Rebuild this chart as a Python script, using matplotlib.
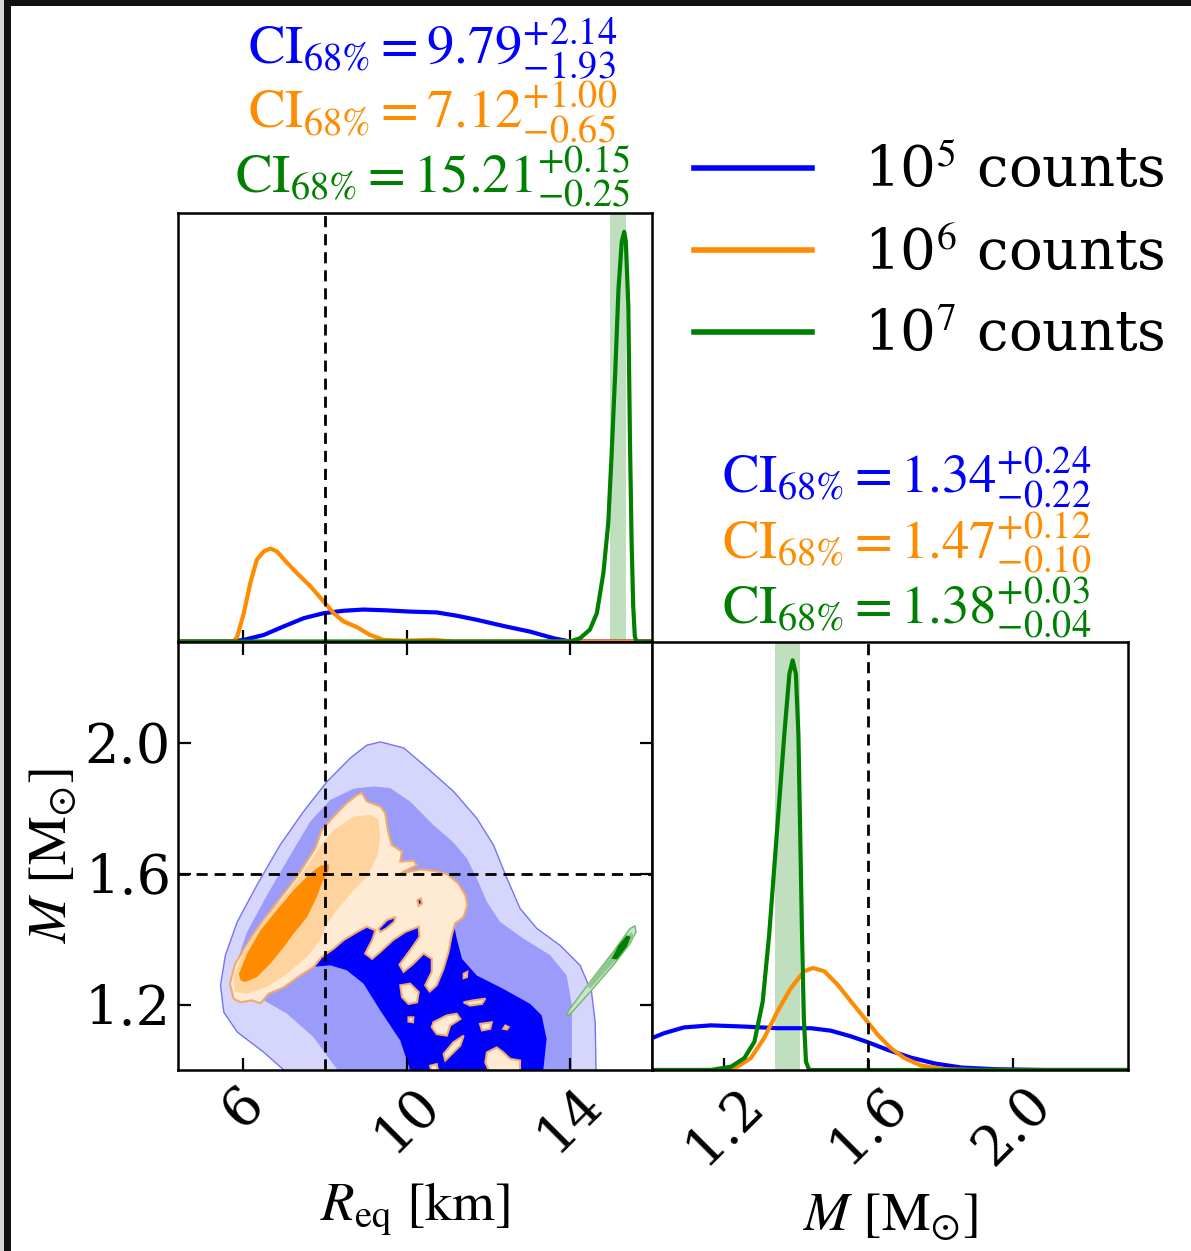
import numpy as np
import matplotlib
matplotlib.use("Agg")
import matplotlib.pyplot as plt
from matplotlib.patches import PathPatch, Rectangle
from matplotlib.path import Path
from matplotlib.lines import Line2D

plt.rcParams['font.family'] = 'DejaVu Serif'
plt.rcParams['mathtext.fontset'] = 'stix'

labels = ['10$^5$ counts', '10$^6$ counts', '10$^7$ counts']
colors = ['blue', 'darkorange', 'green']

r_true = 8.0
m_true = 1.6

# 68% credible intervals (median, +err, -err)
ci_r = [(9.79, 2.14, 1.93), (7.12, 1.00, 0.65), (15.21, 0.15, 0.25)]
ci_m = [(1.34, 0.24, 0.22), (1.47, 0.12, 0.10), (1.38, 0.03, 0.04)]

# 1D marginals of R_eq, scaled to the tallest peak
r_blue = [4.4, 5.68, 6.01, 6.50, 6.99, 7.48, 7.96, 8.45, 8.94, 9.51, 10.08, 10.73, 11.22,
          11.71, 12.36, 13.02, 13.59, 13.99, 14.40, 16.0]
p_r_blue = [0, 0, 0.004, 0.016, 0.037, 0.057, 0.069, 0.075, 0.078, 0.076, 0.073, 0.071,
            0.063, 0.053, 0.038, 0.024, 0.008, 0, 0, 0]
r_orange = [4.4, 5.76, 5.85, 6.01, 6.17, 6.33, 6.50, 6.66, 6.82, 7.07, 7.31, 7.64, 7.96,
            8.21, 8.45, 8.78, 9.10, 9.43, 9.92, 10.65, 11.14, 16.0]
p_r_orange = [0, 0, 0.012, 0.069, 0.143, 0.200, 0.220, 0.227, 0.220, 0.192, 0.167, 0.135,
              0.098, 0.069, 0.049, 0.035, 0.016, 0.004, 0.002, 0.004, 0, 0]
r_green = [4.4, 13.99, 14.24, 14.48, 14.65, 14.81, 14.93, 15.01, 15.10, 15.18, 15.26, 15.32,
           15.36, 15.42, 15.46, 15.50, 15.54, 15.58, 15.62, 16.0]
p_r_green = [0, 0, 0.008, 0.029, 0.069, 0.167, 0.290, 0.453, 0.657, 0.861, 0.976, 1.0,
             0.976, 0.820, 0.494, 0.249, 0.086, 0.012, 0, 0]

# 1D marginals of M
m_blue = [1.0, 1.034, 1.089, 1.163, 1.256, 1.348, 1.441, 1.496, 1.552, 1.598, 1.654, 1.719,
          1.784, 1.858, 1.950, 2.089, 2.32]
p_m_blue = [0.078, 0.090, 0.104, 0.109, 0.106, 0.102, 0.102, 0.096, 0.082, 0.068, 0.049,
            0.030, 0.016, 0.006, 0.002, 0, 0]
m_orange = [1.0, 1.20, 1.237, 1.274, 1.311, 1.348, 1.385, 1.422, 1.446, 1.478, 1.515, 1.552,
            1.589, 1.626, 1.663, 1.700, 1.746, 1.811, 1.904, 2.32]
p_m_orange = [0, 0, 0.008, 0.029, 0.078, 0.143, 0.200, 0.241, 0.249, 0.241, 0.208, 0.167,
              0.127, 0.086, 0.053, 0.029, 0.011, 0.002, 0, 0]
m_green = [1.0, 1.163, 1.219, 1.256, 1.284, 1.307, 1.325, 1.339, 1.353, 1.367, 1.381, 1.390,
           1.399, 1.406, 1.411, 1.416, 1.421, 1.427, 1.436, 2.32]
p_m_green = [0, 0, 0.008, 0.029, 0.069, 0.167, 0.331, 0.494, 0.657, 0.820, 0.967, 1.0,
             0.967, 0.820, 0.576, 0.331, 0.127, 0.020, 0, 0]

# 2D credible regions (R_eq, M): outer, middle, inner
blue_lo_r = [9.35, 9.92, 10.41, 11.14, 11.71, 12.12, 12.45, 12.77, 13.18, 13.75, 14.24, 14.52,
             14.61, 14.63, 14.63, 7.30, 6.99, 6.50, 5.85, 5.52, 5.44, 5.56, 5.85, 6.33, 6.90,
             7.47, 8.05, 8.62, 9.02]
blue_lo_m = [2.003, 1.985, 1.933, 1.852, 1.770, 1.688, 1.586, 1.494, 1.433, 1.381, 1.320,
             1.238, 1.146, 1.0, 0.95, 0.95, 1.0, 1.054, 1.116, 1.177, 1.259, 1.351, 1.453,
             1.565, 1.688, 1.790, 1.882, 1.954, 1.993]
blue_mid_r = [9.19, 9.59, 10.08, 10.65, 11.14, 11.47, 11.71, 11.96, 12.28, 12.85, 13.51, 13.91,
              14.04, 14.04, 8.40, 8.29, 8.13, 7.72, 7.07, 6.50, 6.25, 5.84, 5.76, 6.09, 6.58,
              7.15, 7.64, 8.13, 8.70]
blue_mid_m = [1.867, 1.862, 1.821, 1.749, 1.696, 1.647, 1.586, 1.514, 1.453, 1.402, 1.351,
              1.289, 1.197, 0.95, 0.95, 1.003, 1.029, 1.100, 1.172, 1.213, 1.207, 1.238, 1.300,
              1.422, 1.535, 1.657, 1.760, 1.826, 1.860]
blue_hi_r = [7.64, 8.13, 8.53, 8.94, 9.35, 9.84, 10.08, 10.15, 13.38, 13.34, 13.42, 13.30,
             13.02, 12.36, 11.71, 11.35, 11.22, 11.14, 10.73, 9.92, 8.78, 8.05, 7.72]
blue_hi_m = [1.315, 1.320, 1.305, 1.264, 1.182, 1.090, 1.0, 0.95, 0.95, 1.0, 1.095, 1.167,
             1.202, 1.248, 1.289, 1.340, 1.402, 1.453, 1.55, 1.53, 1.443, 1.392, 1.351]

orange_lo_r = [5.76, 5.67, 5.80, 6.25, 6.74, 7.31, 7.76, 7.92, 8.21, 8.53, 8.78, 8.90, 9.02,
               9.35, 9.47, 9.55, 9.63, 9.88, 9.84, 10.16, 10.25, 9.84, 10.33, 10.65, 10.98,
               11.26, 11.43, 11.48, 11.39, 11.18, 11.10, 11.02, 10.90, 10.73, 10.56, 10.45,
               10.61, 10.61, 10.41, 10.16, 9.92, 9.82, 10.08, 10.31, 10.29, 9.96, 9.66, 9.35,
               9.15, 8.98, 9.15, 9.23, 9.02, 8.78, 8.45, 8.21, 7.92, 7.72, 7.39, 6.99, 6.62,
               6.42, 6.21, 5.93]
orange_lo_m = [1.218, 1.264, 1.325, 1.417, 1.499, 1.591, 1.678, 1.734, 1.775, 1.816, 1.841,
               1.847, 1.821, 1.806, 1.785, 1.724, 1.688, 1.668, 1.637, 1.640, 1.627, 1.601,
               1.613, 1.609, 1.599, 1.570, 1.535, 1.504, 1.468, 1.448, 1.412, 1.361, 1.310,
               1.259, 1.240, 1.259, 1.300, 1.340, 1.356, 1.325, 1.300, 1.322, 1.366, 1.407,
               1.438, 1.422, 1.397, 1.361, 1.340, 1.356, 1.397, 1.427, 1.438, 1.422, 1.397,
               1.371, 1.346, 1.315, 1.289, 1.253, 1.233, 1.204, 1.213, 1.207]
orange_holes = [
    ([9.31, 9.51, 9.72, 9.69, 9.51, 9.35], [1.432, 1.458, 1.468, 1.453, 1.434, 1.422]),
    ([10.26, 10.34, 10.37, 10.29], [1.519, 1.525, 1.509, 1.502]),
]
orange_islands = [
    ([10.65, 10.98, 11.22, 11.31, 11.06, 10.98, 10.73, 10.61],
     [1.146, 1.167, 1.172, 1.156, 1.136, 1.105, 1.110, 1.131]),
    ([11.39, 11.31, 11.06, 10.94, 10.90, 11.14], [1.105, 1.075, 1.044, 1.029, 1.049, 1.085]),
    ([11.39, 11.63, 11.92, 11.84, 11.55], [1.207, 1.213, 1.218, 1.202, 1.197]),
    ([11.79, 12.08, 12.04, 11.84], [1.141, 1.146, 1.126, 1.121]),
    ([11.96, 12.20, 12.36, 12.53, 12.77, 12.77, 12.04, 11.92],
     [1.054, 1.069, 1.054, 1.034, 1.029, 0.99, 0.99, 1.023]),
    ([12.41, 12.49, 12.45, 12.36], [1.136, 1.131, 1.124, 1.126]),
    ([10.04, 10.16, 10.15, 10.04], [1.161, 1.161, 1.146, 1.148]),
    ([9.84, 10.08, 10.29, 10.25, 10.04, 9.88], [1.259, 1.264, 1.238, 1.207, 1.202, 1.223]),
    ([11.39, 11.48, 11.47, 11.39], [1.294, 1.300, 1.284, 1.281]),
    ([10.57, 10.73, 10.78, 10.61], [1.013, 1.018, 0.99, 0.99]),
]
orange_mid_r = [5.80, 5.76, 6.01, 6.50, 7.07, 7.56, 7.88, 8.21, 8.70, 9.11, 9.31, 9.35, 9.27,
                9.02, 8.70, 8.29, 8.05, 7.88, 7.56, 7.07, 6.58, 6.09]
orange_mid_m = [1.238, 1.284, 1.366, 1.458, 1.540, 1.622, 1.683, 1.734, 1.775, 1.780, 1.765,
                1.714, 1.652, 1.591, 1.550, 1.489, 1.448, 1.397, 1.346, 1.294, 1.254, 1.233]
orange_hi_r = [5.93, 5.89, 6.09, 6.42, 6.82, 7.23, 7.64, 7.88, 8.09, 8.09, 7.92, 7.80, 7.56,
               7.23, 6.99, 6.66, 6.33, 6.05]
orange_hi_m = [1.274, 1.294, 1.356, 1.427, 1.489, 1.550, 1.601, 1.624, 1.629, 1.611, 1.571,
               1.530, 1.468, 1.417, 1.376, 1.325, 1.284, 1.269]

green_lo_r = [13.91, 13.99, 14.48, 15.05, 15.46, 15.58, 15.61, 15.46, 15.05, 14.48, 14.08, 13.95]
green_lo_m = [1.169, 1.187, 1.269, 1.361, 1.432, 1.441, 1.422, 1.386, 1.320, 1.238, 1.182, 1.167]
green_mid_r = [14.40, 14.81, 15.22, 15.50, 15.56, 15.34, 14.89, 14.48]
green_mid_m = [1.259, 1.320, 1.386, 1.422, 1.407, 1.366, 1.305, 1.248]
green_hi_r = [15.01, 15.18, 15.38, 15.48, 15.38, 15.14]
green_hi_m = [1.340, 1.381, 1.412, 1.407, 1.376, 1.338]


def region(outer, holes=()):
    verts, codes = [], []
    for k, (xs, ys) in enumerate([outer, *holes]):
        ring = np.column_stack([xs, ys])
        area = np.sum(ring[:, 0] * np.roll(ring[:, 1], -1) - np.roll(ring[:, 0], -1) * ring[:, 1])
        if (k == 0) != (area > 0):
            ring = ring[::-1]
        verts += list(ring) + [ring[0]]
        codes += [Path.MOVETO] + [Path.LINETO] * (len(ring) - 1) + [Path.CLOSEPOLY]
    return Path(verts, codes)


def fill(ax, xs, ys, fc, ec='none', lw=0, holes=()):
    ax.add_patch(PathPatch(region((xs, ys), holes), fc=fc, ec=ec, lw=lw))


fig = plt.figure(figsize=(11.91, 12.51), dpi=100)
x0, w1, w2 = 178 / 1191, 474 / 1191, 476 / 1191
y0, h = 181 / 1251, 428.5 / 1251
ax_r = fig.add_axes([x0, y0 + h, w1, h])
ax_2d = fig.add_axes([x0, y0, w1, h])
ax_m = fig.add_axes([x0 + w1, y0, w2, h])

# R_eq marginal
ax_r.plot(r_blue, p_r_blue, color='blue', lw=3)
ax_r.plot(r_orange, p_r_orange, color='darkorange', lw=3)
ax_r.plot(r_green, p_r_green, color='green', lw=3)
med, up, lo = ci_r[2]
ax_r.axvspan(med - lo, med + up, color='green', alpha=0.25, lw=0)
ax_r.axvline(r_true, color='k', ls=(0, (4, 2.5)), lw=2)
ax_r.set_xlim(4.4, 16.0)
ax_r.set_ylim(0, 1.046)

# M marginal
ax_m.plot(m_blue, p_m_blue, color='blue', lw=3)
ax_m.plot(m_orange, p_m_orange, color='darkorange', lw=3)
ax_m.plot(m_green, p_m_green, color='green', lw=3)
med, up, lo = ci_m[2]
ax_m.axvspan(med - lo, med + up, color='green', alpha=0.25, lw=0)
ax_m.axvline(m_true, color='k', ls=(0, (4, 2.5)), lw=2)
ax_m.set_xlim(1.0, 2.32)
ax_m.set_ylim(0, 1.046)

# joint posterior
fill(ax_2d, blue_lo_r, blue_lo_m, '#d6d6fc', ec='#7474f4', lw=1)
fill(ax_2d, blue_mid_r, blue_mid_m, '#9b9bfa')
fill(ax_2d, blue_hi_r, blue_hi_m, '#0000ff')
fill(ax_2d, orange_lo_r, orange_lo_m, '#ffebd4', ec='#f2aa6c', lw=1.5, holes=orange_holes)
for xs, ys in orange_islands:
    fill(ax_2d, xs, ys, '#ffebd4', ec='#f2aa6c', lw=1.5)
fill(ax_2d, orange_mid_r, orange_mid_m, '#fed39e')
fill(ax_2d, orange_hi_r, orange_hi_m, '#ff8c00')
fill(ax_2d, green_lo_r, green_lo_m, '#c9e6c9', ec='#6fb56f', lw=1)
fill(ax_2d, green_mid_r, green_mid_m, '#8fc98f')
fill(ax_2d, green_hi_r, green_hi_m, '#008000')
ax_2d.axvline(r_true, color='k', ls=(0, (4, 2.5)), lw=2)
ax_2d.axhline(m_true, color='k', ls=(0, (4, 2.5)), lw=2)
ax_2d.set_xlim(4.4, 16.0)
ax_2d.set_ylim(1.0, 2.31)

for ax in (ax_r, ax_2d, ax_m):
    for s in ax.spines.values():
        s.set_linewidth(1.8)
    ax.tick_params(direction='in', length=9, width=1.6, labelsize=39, pad=5)

ax_r.set_xticks([6, 10, 14])
ax_r.set_yticks([])
ax_r.tick_params(labelbottom=False)

ax_2d.set_xticks([6, 10, 14])
ax_2d.set_yticks([1.2, 1.6, 2.0])
ax_2d.tick_params(top=True, right=True, axis='both')
ax_2d.tick_params(axis='x', labelrotation=45)
ax_2d.set_xlabel(r'$R_{\mathrm{eq}}\ [\mathrm{km}]$', fontsize=39.5, labelpad=13)
ax_2d.set_ylabel(r'$M\ [\mathrm{M}_{\odot}]$', fontsize=39.5, labelpad=5)

ax_m.set_xticks([1.2, 1.6, 2.0])
ax_m.set_yticks([])
ax_m.tick_params(axis='x', labelrotation=45)
ax_m.set_xlabel(r'$M\ [\mathrm{M}_{\odot}]$', fontsize=39.5, labelpad=11)

# credible interval annotations
for k, (med, up, lo) in enumerate(ci_r):
    fig.text(433 / 1191, 1 - (49 + 64 * k) / 1251,
             r'$\mathrm{CI}_{68\%%} = %.2f^{+%.2f}_{-%.2f}$' % (med, up, lo),
             color=colors[k], fontsize=39.4, ha='center', va='center')
for k, (med, up, lo) in enumerate(ci_m):
    fig.text(907 / 1191, 1 - (478 + 65 * k) / 1251,
             r'$\mathrm{CI}_{68\%%} = %.2f^{+%.2f}_{-%.2f}$' % (med, up, lo),
             color=colors[k], fontsize=39.4, ha='center', va='center')

handles = [Line2D([], [], color=c, lw=4) for c in colors]
fig.legend(handles, labels, loc='center', bbox_to_anchor=(0.780, 0.797), frameon=False,
           fontsize=40.5, handlelength=2.1, handletextpad=0.92, labelspacing=0.485)

# dark border along the top and left edges
fig.add_artist(Rectangle((0, 0), 4 / 1191, 1, transform=fig.transFigure, fc='#d8d8d8', lw=0))
fig.add_artist(Rectangle((4 / 1191, 0), 7 / 1191, 1, transform=fig.transFigure, fc='#111111', lw=0))
fig.add_artist(Rectangle((4 / 1191, 1 - 6 / 1251), 1, 6 / 1251, transform=fig.transFigure,
                         fc='#111111', lw=0))

fig.savefig('out.png', dpi=100)
